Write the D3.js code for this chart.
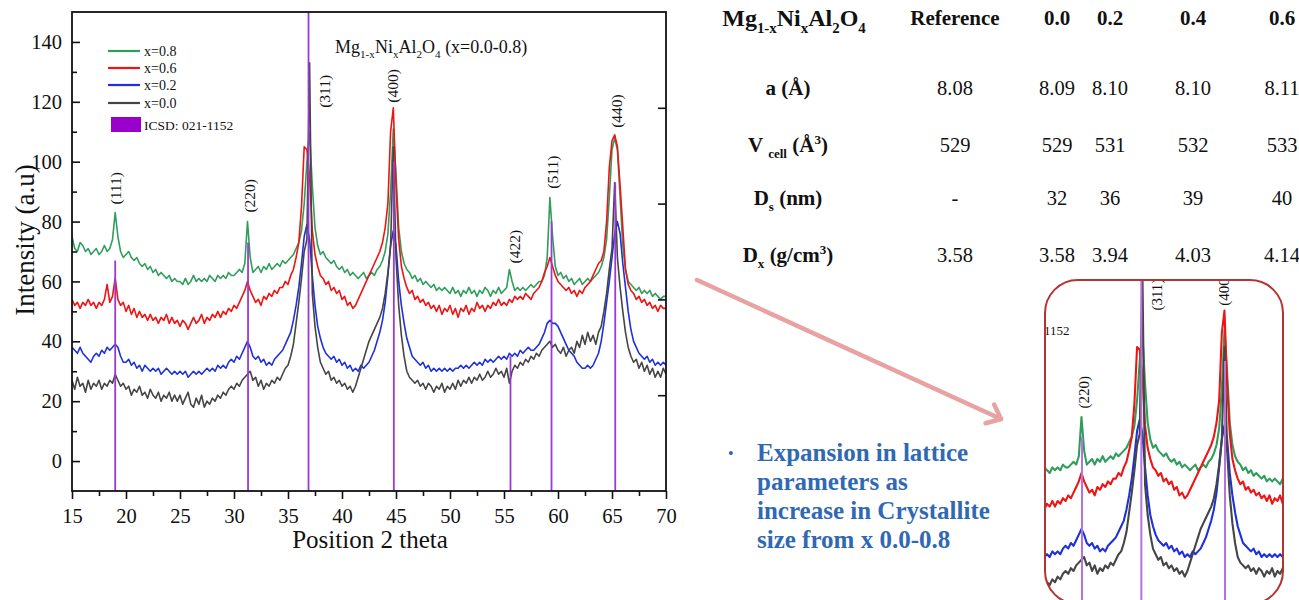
<!DOCTYPE html>
<html><head><meta charset="utf-8">
<script src="https://cdn.jsdelivr.net/npm/d3@7"></script>
<style>
body{margin:0;background:#fff}
svg{display:block}
text{font-family:"Liberation Serif","Times New Roman",serif;fill:#111}
</style>
</head><body>
<svg id="c" width="1299" height="600"></svg>
<script>
// ---------------- DATA ----------------
const THETA_START = 15, THETA_STEP = 0.25;   // sampling grid of 2-theta (15 .. 70)
const seriesNames = ["x=0.8", "x=0.6", "x=0.2", "x=0.0"];
const green08 = [
 75,71,70,73,72,70,71,69,70,71,69,70,72,70,71,74,83,75,70,68,
 69,70,68,67,68,66,65,66,64,65,63,64,62,63,62,61,62,60,61,60,
 60,59,61,59,60,62,60,61,60,61,60,62,61,60,62,61,62,61,63,62,
 62,63,64,63,66,80,68,63,64,65,63,65,64,66,64,65,66,65,67,66,
 67,68,69,71,73,77,86,100,110,92,78,72,69,70,68,67,66,67,65,64,
 65,63,64,62,63,62,61,62,63,61,62,63,62,64,65,67,70,76,90,111,
 96,78,70,66,64,63,61,62,60,61,59,60,59,58,59,57,58,57,58,57,
 56,58,56,57,55,57,56,58,56,57,55,57,56,58,57,55,57,56,58,56,
 57,58,64,60,57,58,57,58,57,58,59,58,59,60,60,62,68,88,75,65,
 62,63,61,62,60,61,59,60,61,59,60,61,60,61,62,63,65,68,74,88,
 104,108,104,88,72,64,60,59,58,57,58,56,57,56,57,55,56,55,54,55,
 55];
const red06 = [
 54,52,53,51,53,52,54,52,53,51,53,52,54,59,53,55,61,54,52,53,
 50,52,49,51,48,50,48,49,47,49,47,48,46,48,47,49,46,48,46,47,
 45,47,46,44,46,48,46,47,49,46,48,47,49,48,50,48,50,49,51,50,
 52,51,53,55,57,60,57,55,53,54,52,55,54,56,55,57,56,58,58,60,
 59,62,64,68,73,85,105,104,95,77,69,65,62,61,59,60,57,58,56,57,
 54,55,52,53,51,52,54,56,58,60,62,64,66,68,70,73,78,86,110,118,
 92,74,65,61,58,56,57,54,55,53,54,52,53,51,52,50,52,49,51,50,
 52,49,51,48,51,50,52,49,51,50,53,51,52,50,52,51,53,52,54,52,
 53,52,54,53,55,54,55,54,56,55,54,56,57,58,60,63,65,68,65,62,
 60,59,58,57,58,56,57,55,57,56,58,59,60,62,64,66,67,70,80,98,
 107,109,105,92,78,64,59,57,56,54,55,53,54,52,53,51,52,50,52,51,
 51];
const blue02 = [
 38,37,36,38,36,35,34,33,35,36,35,37,36,38,37,38,39,38,35,33,
 33,34,32,33,31,32,30,32,31,30,31,30,31,29,30,31,30,29,30,29,
 30,29,30,28,29,30,29,30,29,30,31,30,31,30,32,31,32,31,33,34,
 33,35,34,36,38,40,38,35,34,35,33,34,32,33,32,34,35,36,37,39,
 41,43,47,52,58,66,75,79,74,62,52,45,41,38,36,35,34,35,33,34,
 32,33,31,32,30,31,30,32,31,32,33,35,37,40,43,47,53,62,72,77,
 72,60,52,46,41,38,35,34,33,32,33,31,32,30,31,30,31,30,31,30,
 31,30,31,31,32,31,32,31,32,33,32,33,32,34,33,34,33,34,35,34,
 35,34,36,35,36,35,37,36,37,38,37,37,38,39,41,43,46,47,46,46,
 45,43,41,39,37,36,35,33,32,31,31,32,31,32,34,36,40,46,53,60,
 68,76,80,76,66,58,50,44,40,38,36,35,34,35,33,34,32,33,32,33,
 32];
const black00 = [
 27,24,28,25,26,23,27,24,26,25,27,24,26,25,27,26,29,27,25,26,
 24,25,22,24,23,25,22,23,21,24,22,21,23,20,22,21,23,20,22,20,
 22,19,21,23,19,18,21,19,22,18,20,19,21,20,22,21,23,22,24,25,
 24,26,25,27,28,29,30,27,28,25,27,24,26,25,27,26,28,27,29,31,
 32,35,39,46,53,61,70,74,133,56,45,38,33,31,29,30,27,28,26,27,
 25,26,24,25,23,25,28,31,34,37,40,42,44,46,48,51,56,63,72,105,
 68,52,42,35,30,28,27,26,27,25,26,24,26,25,23,25,24,26,23,25,
 24,26,24,27,25,27,26,28,26,28,27,29,27,28,30,28,29,31,29,30,
 28,31,26,30,32,31,33,32,34,33,35,34,36,35,37,38,39,40,38,39,
 37,36,38,35,37,38,36,40,38,42,39,43,40,42,39,43,45,50,56,64,
 71,93,68,58,50,43,38,35,33,34,31,33,30,32,29,31,28,30,28,31,
 29];
// ICSD 021-1152 reference lines
const refPeaks   = [19.0, 31.3, 36.9, 44.8, 55.6, 59.4, 65.3];
const refHeights = [67, 73, 160, 100, 35, 80, 93];
// hkl labels
const peakLabels = ["(111)", "(220)", "(311)", "(400)", "(422)", "(511)", "(440)"];
const labelTheta = [19.07, 31.45, 38.38, 44.67, 56.0, 59.45, 65.46];
const labelBase  = [85.7, 83, 118, 119.7, 66, 91, 111.3];
const xTicks = [15, 20, 25, 30, 35, 40, 45, 50, 55, 60, 65, 70];
const yTicks = [0, 20, 40, 60, 80, 100, 120, 140];
// table
const tableCols = ["Reference", "0.0", "0.2", "0.4", "0.6"];
const rowA  = ["8.08", "8.09", "8.10", "8.10", "8.11"];
const rowV  = ["529", "529", "531", "532", "533"];
const rowDs = ["-", "32", "36", "39", "40"];
const rowDx = ["3.58", "3.58", "3.94", "4.03", "4.14"];
const noteLines = ["Expansion in lattice", "parameters as", "increase in Crystallite", "size from x 0.0-0.8"];

// ---------------- DRAW ----------------
const svg = d3.select("#c");
const colors = ["#2f9e5c", "#ee1414", "#1d30dc", "#454545"];
const series = [green08, red06, blue02, black00];
const M = {left: 72, right: 666, top: 12, bottom: 491};
const x = d3.scaleLinear().domain([15, 70]).range([M.left, M.right]);
const y = d3.scaleLinear().domain([-10, 150]).range([M.bottom, M.top]);

function rich(sel, segs, fs) {
  let cur = 0;
  segs.forEach(([t, m]) => {
    const target = m === "sub" ? fs * 0.28 : m === "sup" ? -fs * 0.4 : 0;
    const ts = sel.append("tspan").attr("dy", target - cur).text(t);
    if (m) ts.attr("font-size", fs * 0.62);
    cur = target;
  });
}
const titleSegs = [["Mg",""],["1-x","sub"],["Ni",""],["x","sub"],["Al",""],["2","sub"],["O",""],["4","sub"],[" (x=0.0-0.8)",""]];

const defs = svg.append("defs");
defs.append("clipPath").attr("id", "mainClip").append("rect")
  .attr("x", M.left).attr("y", M.top).attr("width", M.right - M.left).attr("height", M.bottom - M.top);
const IB = {x: 1045, y: 280, w: 238, h: 324, r: 33};
defs.append("clipPath").attr("id", "insetClip").append("rect")
  .attr("x", IB.x).attr("y", IB.y).attr("width", IB.w).attr("height", IB.h).attr("rx", IB.r);

function drawContent(g, xs, ys, o) {
  const [x0, x1] = o.xBounds;
  const inside = px => px >= x0 && px <= x1;
  const line = d3.line().x((d, i) => xs(THETA_START + i * THETA_STEP)).y(d => ys(d));
  series.forEach((s, k) => {
    g.append("path").attr("d", line(s)).attr("fill", "none")
      .attr("stroke", colors[k]).attr("stroke-width", o.lw).attr("stroke-linejoin", "round");
  });
  refPeaks.forEach((p, i) => {
    if (!inside(xs(p))) return;
    g.append("line").attr("x1", xs(p)).attr("x2", xs(p))
      .attr("y1", ys(-12)).attr("y2", ys(refHeights[i]))
      .attr("stroke", o.refColor).attr("stroke-width", o.refW);
  });
  peakLabels.forEach((t, i) => {
    if (!inside(xs(labelTheta[i]))) return;
    g.append("text")
      .attr("transform", `translate(${xs(labelTheta[i])},${ys(labelBase[i])}) rotate(-90)`)
      .attr("dominant-baseline", "central").attr("font-size", o.fs).text(t);
  });
  // legend & title (pixel layout of the main chart mapped through data space)
  const P = (px, py) => [xs(x.invert(px)), ys(y.invert(py))];
  if (!o.inset) {
    const lg = [51, 68, 85, 103];
    seriesNames.forEach((n, k) => {
      const a = P(108, lg[k]), b = P(140, lg[k]), t = P(144, lg[k] + 5);
      g.append("line").attr("x1", a[0]).attr("x2", b[0]).attr("y1", a[1]).attr("y2", b[1])
        .attr("stroke", colors[k]).attr("stroke-width", 2.2);
      g.append("text").attr("x", t[0]).attr("y", t[1]).attr("font-size", 14).text(n);
    });
    const r0 = P(111, 117), r1 = P(141, 132);
    g.append("rect").attr("x", r0[0]).attr("y", r0[1]).attr("width", r1[0] - r0[0]).attr("height", r1[1] - r0[1])
      .attr("fill", "#9a00cc");
    const tt = P(335, 53);
    rich(g.append("text").attr("x", tt[0]).attr("y", tt[1]).attr("font-size", 18), titleSegs, 18);
  }
  const it = P(144, 130);
  g.append("text").attr("x", it[0] + (o.inset ? 4 : 0)).attr("y", it[1] + (o.inset ? 4 : 0))
    .attr("font-size", 13.5 * o.k).text("ICSD: 021-1152");
}

// main plot content
const gMain = svg.append("g").attr("clip-path", "url(#mainClip)");
drawContent(gMain, x, y, {lw: 1.6, refColor: "#9b3ad2", refW: 1.8, fs: 15.5, k: 1, xBounds: [M.left, M.right], inset: false});

// axes
const gx = svg.append("g").attr("transform", `translate(0,${M.bottom})`)
  .call(d3.axisBottom(x).tickValues(xTicks).tickSizeInner(8).tickSizeOuter(0).tickPadding(9));
const gxm = svg.append("g").attr("transform", `translate(0,${M.bottom})`)
  .call(d3.axisBottom(x).tickValues(d3.range(17.5, 70, 5)).tickSize(5).tickFormat(""));
const gy = svg.append("g").attr("transform", `translate(${M.left},0)`)
  .call(d3.axisLeft(y).tickValues(yTicks).tickSizeInner(-8).tickSizeOuter(0).tickPadding(10));
const gym = svg.append("g").attr("transform", `translate(${M.left},0)`)
  .call(d3.axisLeft(y).tickValues(d3.range(-10, 150, 20).filter(v => v > -10)).tickSize(-5).tickFormat(""));
const yR = d3.scaleLinear().domain([0, 5]).range([M.bottom, M.top]);
const gyr = svg.append("g").attr("transform", `translate(${M.right},0)`)
  .call(d3.axisRight(yR).tickValues([1, 2, 3, 4]).tickSize(-8).tickFormat(""));
[gx, gxm, gy, gym, gyr].forEach(g => {
  g.select(".domain").remove();
  g.selectAll(".tick line").attr("stroke", "#111").attr("stroke-width", 1.6);
  g.selectAll(".tick text").attr("font-family", "Liberation Serif").attr("font-size", 20.5).attr("fill", "#111");
});
svg.append("rect").attr("x", M.left).attr("y", M.top).attr("width", M.right - M.left).attr("height", M.bottom - M.top)
  .attr("fill", "none").attr("stroke", "#111").attr("stroke-width", 1.8);

svg.append("text").attr("x", 370).attr("y", 548).attr("text-anchor", "middle")
  .attr("font-size", 25).text("Position 2 theta");
svg.append("text").attr("transform", "translate(34,240) rotate(-90)").attr("text-anchor", "middle")
  .attr("font-size", 27).text("Intensity (a.u)");

// ---------- table ----------
const colX = [955, 1057, 1110, 1193, 1282];
const rowY = [95, 152, 205, 262];
const labelX = 788;
rich(svg.append("text").attr("x", 794).attr("y", 26).attr("text-anchor", "middle")
  .attr("font-weight", "bold").attr("font-size", 24), [["Mg",""],["1-x","sub"],["Ni",""],["x","sub"],["Al",""],["2","sub"],["O",""],["4","sub"]], 24);
tableCols.forEach((c, i) => svg.append("text").attr("x", colX[i]).attr("y", 25).attr("text-anchor", "middle")
  .attr("font-weight", "bold").attr("font-size", 21).text(c));
const rowLabels = [
  [["a (Å)",""]],
  [["V ",""],["cell","sub"],[" (Å",""],["3","sup"],[")",""]],
  [["D",""],["s","sub"],[" (nm)",""]],
  [["D",""],["x","sub"],[" (g/cm",""],["3","sup"],[")",""]]
];
const rowVals = [rowA, rowV, rowDs, rowDx];
rowLabels.forEach((segs, r) => {
  rich(svg.append("text").attr("x", labelX).attr("y", rowY[r]).attr("text-anchor", "middle")
    .attr("font-weight", "bold").attr("font-size", 21), segs, 21);
  rowVals[r].forEach((v, i) => svg.append("text").attr("x", colX[i]).attr("y", rowY[r])
    .attr("text-anchor", "middle").attr("font-size", 20.5).attr("fill", "#222").text(v));
});

// ---------- arrow ----------
const A0 = [697, 280], A1 = [1001, 419];
const ang = Math.atan2(A1[1] - A0[1], A1[0] - A0[0]);
const bl = 16, spread = 0.70;
const b1 = [A1[0] + bl * Math.cos(ang + Math.PI - spread), A1[1] + bl * Math.sin(ang + Math.PI - spread)];
const b2 = [A1[0] + bl * Math.cos(ang + Math.PI + spread), A1[1] + bl * Math.sin(ang + Math.PI + spread)];
svg.append("line").attr("x1", A0[0]).attr("y1", A0[1]).attr("x2", A1[0]).attr("y2", A1[1])
  .attr("stroke", "#e8a2a2").attr("stroke-width", 4.5).attr("stroke-linecap", "round");
svg.append("path").attr("d", `M${b1}L${A1}L${b2}`).attr("fill", "none")
  .attr("stroke", "#e8a2a2").attr("stroke-width", 4.5).attr("stroke-linecap", "round").attr("stroke-linejoin", "round");

// ---------- note ----------
svg.append("text").attr("x", 728).attr("y", 459).attr("font-size", 16).style("fill", "#2f69b3").text("•");
noteLines.forEach((t, i) => svg.append("text").attr("x", 757).attr("y", 461 + i * 29)
  .attr("font-size", 25).attr("font-weight", "bold").style("fill", "#2f69b3").text(t));

// ---------- inset ----------
svg.append("rect").attr("x", IB.x).attr("y", IB.y).attr("width", IB.w).attr("height", IB.h).attr("rx", IB.r)
  .attr("fill", "#fff");
const xi = d3.scaleLinear().domain([31.3, 44.8]).range([1082, 1225]);
const yi = d3.scaleLinear().domain([0, 80]).range([641, 417]);
const gIn = svg.append("g").attr("clip-path", "url(#insetClip)");
drawContent(gIn, xi, yi, {lw: 2.1, refColor: "#b673dc", refW: 2, fs: 15, k: 0.96, xBounds: [IB.x, IB.x + IB.w], inset: true});
svg.append("rect").attr("x", IB.x).attr("y", IB.y).attr("width", IB.w).attr("height", IB.h).attr("rx", IB.r)
  .attr("fill", "none").attr("stroke", "#b4352f").attr("stroke-width", 2);
</script>
</body></html>
